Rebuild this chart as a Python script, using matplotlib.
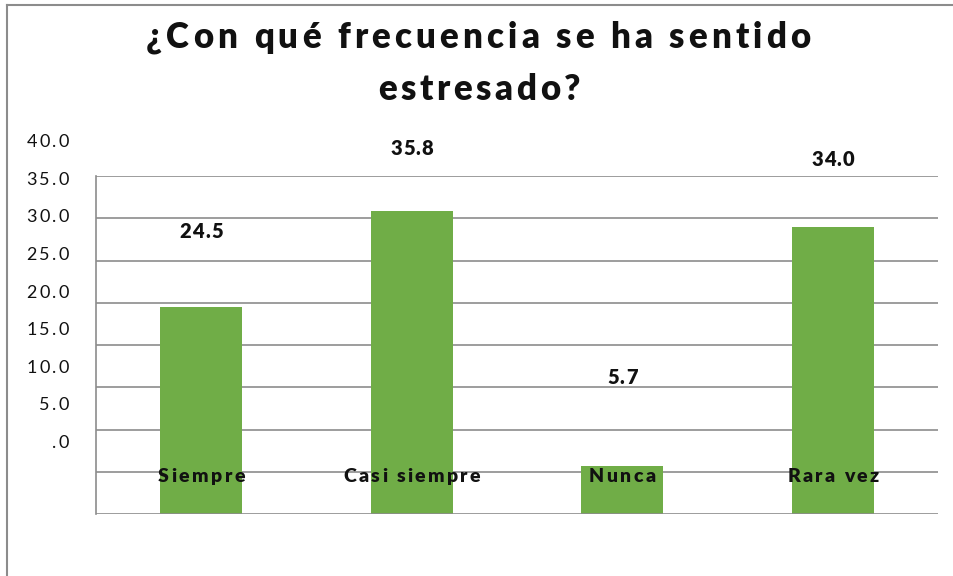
import numpy as np
import matplotlib.pyplot as plt
from matplotlib.lines import Line2D
from matplotlib.font_manager import FontProperties

categories = ["Siempre", "Casi siempre", "Nunca", "Rara vez"]
values = [24.5, 35.8, 5.7, 34.0]
tick_values = [40, 35, 30, 25, 20, 15, 10, 5, 0]
tick_labels = ["40.0", "35.0", "30.0", "25.0", "20.0", "15.0", "10.0", "5.0", ".0"]

# label offsets above the bar tops, in pixels (as in the original)
label_offsets = [75, 63, 88, 67]

W, H = 954, 576
plt.rcParams['font.family'] = ['Lato', 'DejaVu Sans']

fig = plt.figure(figsize=(W / 100, H / 100), dpi=100)
ax = fig.add_axes([96/W, 1 - 514/H, (938-96)/W, (514-176)/H])

x = np.arange(len(categories))
ax.bar(x, values, width=0.39, color='#70AD47', zorder=3)
ax.set_xlim(-0.5, 3.5)
ax.set_ylim(0, 40)

for y in range(5, 41, 5):
    ax.axhline(y, color='#8c8c8c', lw=1.2, zorder=1)
ax.axhline(0, color='#8c8c8c', lw=1.2, zorder=4)

for s in ['top', 'right', 'bottom']:
    ax.spines[s].set_visible(False)
ax.spines['left'].set_color('#8c8c8c')
ax.spines['left'].set_linewidth(1.2)
ax.set_xticks([])
ax.set_yticks([])

renderer = fig.canvas.get_renderer()


def spaced(px, py, s, size, weight='normal', track=3.0, width=None, ha='center', zorder=5):
    """draw text with extra letter spacing; px, py in display pixels (from bottom)"""
    prop = FontProperties(family=['Lato', 'DejaVu Sans'], size=size, weight=weight)
    w0 = renderer.get_text_width_height_descent("||", prop, ismath=False)[0]
    advs = [renderer.get_text_width_height_descent("|" + c + "|", prop, ismath=False)[0] - w0 for c in s]
    if width is not None:
        track = (width - sum(advs)) / (len(s) - 1)
    total = sum(advs) + track * (len(s) - 1)
    if ha == 'center':
        start = px - total / 2
    elif ha == 'right':
        start = px - total
    else:
        start = px
    cur = start
    for c, a in zip(s, advs):
        if c != ' ':
            fig.text(cur / W, py / H, c, fontproperties=prop, ha='left', va='center',
                     color='#111111', zorder=zorder)
        cur += a + track


# y tick labels sit shifted upward, as in the original chart
for v, t in zip(tick_values, tick_labels):
    px_x, px_y = ax.transData.transform((-0.5, v))
    spaced(px_x - 27, px_y + 71 - 0.925 * v, t, 13, track=2.4, ha='right')

for xi, v, off in zip(x, values, label_offsets):
    px_x, px_y = ax.transData.transform((xi, v))
    spaced(px_x, px_y + off, f"{v:.1f}", 14.5, weight='heavy', track=1.2)

cat_widths = [88, 137, 68, 91]
for xi, c, w in zip(x, categories, cat_widths):
    px_x, px_y = ax.transData.transform((xi, 4.4))
    spaced(px_x, px_y, c, 14, weight='heavy', width=w)

spaced(W / 2 + 1, H - 37, "¿Con qué frecuencia se ha sentido", 25, weight='heavy', width=665)
spaced(W / 2 + 2, H - 89, "estresado?", 25, weight='heavy', width=202)

# outer frame (left and top edges)
fig.add_artist(Line2D([7/W, 7/W], [0, 1 - 5/H], transform=fig.transFigure, color='#8c8c8c', lw=1.5))
fig.add_artist(Line2D([7/W, 1], [1 - 5/H, 1 - 5/H], transform=fig.transFigure, color='#8c8c8c', lw=1.5))

fig.savefig('out.png', dpi=100)
